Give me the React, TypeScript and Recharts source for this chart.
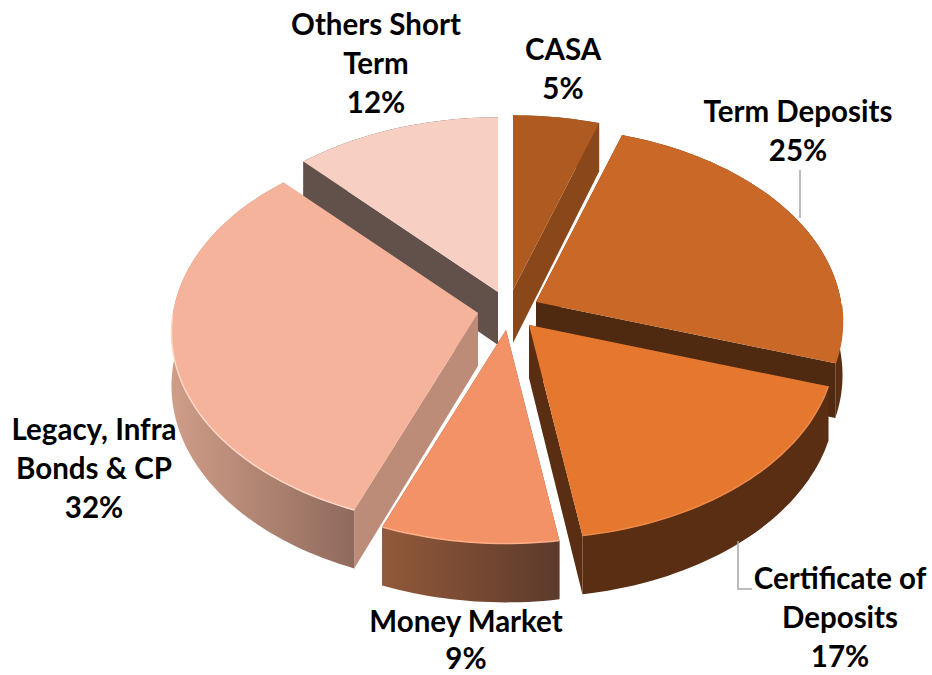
import { PieChart, Pie } from 'recharts'

// slice order is back-to-front so later slices paint over earlier walls
const categories = ['Others Short Term', 'CASA', 'Term Deposits', 'Certificate of Deposits', 'Money Market', 'Legacy, Infra Bonds & CP']
const shares = [12, 5, 25, 17, 9, 32]
const labelRows = [
  ['Others Short', 'Term', '12%'],
  ['CASA', '5%'],
  ['Term Deposits', '25%'],
  ['Certificate of', 'Deposits', '17%'],
  ['Money Market', '9%'],
  ['Legacy, Infra', 'Bonds & CP', '32%'],
]

const tableData = categories.map((name, i) => ({ name, value: shares[i] }))

// look of the slices, in the same order
const topColors = ['#f8cfc3', '#ae5a20', '#c96827', '#e5772f', '#f39267', '#f5b39b']
const rimColors = ['#f8cfc3', '#ae5a20', '#c96827', '#ee8a48', '#ffb088', '#ffd8c8']
const faceColors = ['#62514b', '#8a481a', '#4f2a10', '#5a2e12', '#7a4a30', '#bd8c79']
const wallStops = [
  ['#62514b', '#62514b'],
  ['#8a481a', '#8a481a'],
  ['#4f2a10', '#5a2e12'],
  ['#5a2e12', '#5a2e12'],
  ['#93593a', '#5c3a2c'],
  ['#cf9d88', '#8f6a5c'],
]
const apexOffsets = [[-7, -18], [8, -20], [31, -8], [24, 15], [1, 20], [-27, 3]]
const labelAnchors = [[376, 35], [563, 60], [798, 122], [840, 589], [466, 632], [94, 440]]
const labelSpacing = [38.8, 38.8, 38.8, 38.8, 37, 38.8]

const CX = 505
const CY = 310
const RADIUS = 305
const TILT = 0.63
const NEAR = 0.1
const DEPTH = 53

const project = (theta: number, r: number) => {
  // the source render is not a clean ellipse: the front edge sits a little further round
  const t = theta + 0.03 * Math.exp(-(((theta - 2.95) / 0.25) ** 2))
  const x = Math.sin(t) * r
  const y = -Math.cos(t) * r
  const w = 1 - (NEAR * y) / r
  return { x: x / w, y: (y * TILT) / w, drop: DEPTH / w }
}

function Slice3D(props: any) {
  const { cx, cy, outerRadius, startAngle, endAngle, index } = props
  const [ox, oy] = apexOffsets[index]
  const ax = cx + ox
  const ay = cy + oy
  const a0 = ((90 - startAngle) * Math.PI) / 180
  const a1 = ((90 - endAngle) * Math.PI) / 180
  const steps = Math.max(8, Math.round((a1 - a0) * 40))
  const arc = Array.from({ length: steps + 1 }, (_, k) => {
    const th = a0 + ((a1 - a0) * k) / steps
    const p = project(th, outerRadius)
    return { x: ax + p.x, y: ay + p.y, drop: p.drop, front: Math.cos(th) < 0 }
  })
  const pts = (list: { x: number; y: number }[]) => list.map(p => `${p.x.toFixed(1)},${p.y.toFixed(1)}`).join(' ')
  const low = (p: { x: number; y: number; drop: number }) => ({ x: p.x, y: p.y + p.drop })
  const first = arc[0]
  const last = arc[arc.length - 1]
  const apex = { x: ax, y: ay, drop: DEPTH }
  const gid = `wall-${index}`
  return (
    <g>
      <defs>
        <linearGradient id={gid} x1="0" x2="1" y1="0" y2="0">
          <stop offset="0%" stopColor={wallStops[index][0]} />
          <stop offset="100%" stopColor={wallStops[index][1]} />
        </linearGradient>
      </defs>
      <polygon points={pts([apex, first, low(first), low(apex)])} fill={faceColors[index]} />
      <polygon points={pts([apex, last, low(last), low(apex)])} fill={faceColors[index]} />
      <polygon points={pts([...arc, ...arc.map(low).reverse()])} fill={`url(#${gid})`} />
      <polygon points={pts([apex, ...arc])} fill={topColors[index]} />
      <polyline points={pts(arc.filter(p => p.front))} fill="none" stroke={rimColors[index]} strokeWidth={1.5} />
    </g>
  )
}

function SliceLabel(props: any) {
  const { index } = props
  const [x, y] = labelAnchors[index]
  return (
    <g>
      {index === 2 && <polyline points="800,170 800,218" fill="none" stroke="#a6a6a6" strokeWidth={1.5} />}
      {index === 3 && <polyline points="738,541 738,589 752,589" fill="none" stroke="#a6a6a6" strokeWidth={1.5} />}
      <text textAnchor="middle" fontFamily="Lato" fontWeight={700} fontSize={29.5} fill="#000">
        {labelRows[index].map((row, i) => (
          <tspan key={row} x={x} y={y + i * labelSpacing[index]}>{row}</tspan>
        ))}
      </text>
    </g>
  )
}

export default function App() {
  return (
    <div style={{ position: 'absolute', left: 0, top: 0, width: 932, height: 675, background: '#fff' }}>
      <PieChart width={932} height={675} margin={{ top: 0, right: 0, bottom: 0, left: 0 }}>
        <Pie
          data={tableData}
          dataKey="value"
          nameKey="name"
          cx={CX}
          cy={CY}
          innerRadius={0}
          outerRadius={RADIUS}
          startAngle={133.2}
          endAngle={-226.8}
          stroke="none"
          shape={Slice3D}
          label={SliceLabel}
          labelLine={false}
          isAnimationActive={false}
        />
      </PieChart>
    </div>
  )
}
